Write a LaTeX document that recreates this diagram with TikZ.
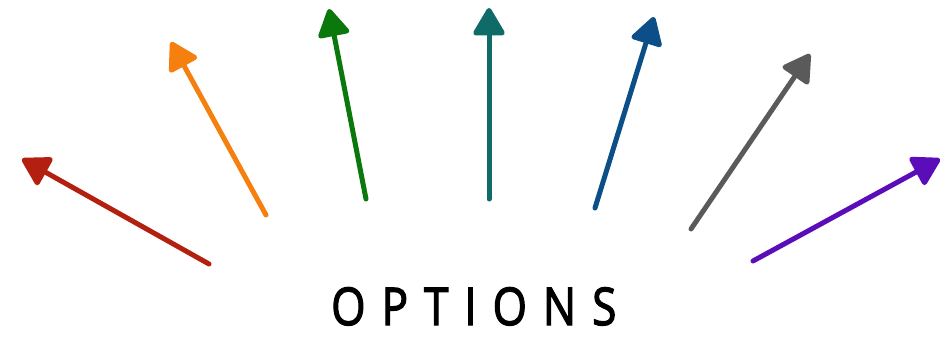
\documentclass[tikz,border=0pt]{standalone}
\usepackage{fontspec}
\usetikzlibrary{arrows.meta}
\newfontfamily\optfont[LetterSpace=36, FakeBold=2.5]{Open Sans}
\definecolor{cred}{HTML}{B42010}
\definecolor{corange}{HTML}{F5800F}
\definecolor{cgreen}{HTML}{0A780A}
\definecolor{cteal}{HTML}{0E6B68}
\definecolor{cblue}{HTML}{0C4F88}
\definecolor{cgray}{HTML}{5A5A5A}
\definecolor{cpurple}{HTML}{5A0DB8}
\tikzset{
  option/.style={line width=5pt, line cap=round,
    -{Triangle[length=30pt,width=34pt,round]}},
  label/.style={inner sep=0pt, anchor=base west, xscale=0.85, transform shape,
    font=\optfont\fontsize{52}{60}\selectfont}
}
\begin{document}
\begin{tikzpicture}[x=1pt,y=-1pt]
\useasboundingbox (0,0) rectangle (943,337);
% tails and tips
\coordinate (t1) at (209,264); \coordinate (h1) at (22,159);
\coordinate (t2) at (266,215); \coordinate (h2) at (171,42);
\coordinate (t3) at (366,199); \coordinate (h3) at (329,9);
\coordinate (t4) at (489,199); \coordinate (h4) at (489,8);
\coordinate (t5) at (595,208); \coordinate (h5) at (654,17);
\coordinate (t6) at (691,229); \coordinate (h6) at (810,54);
\coordinate (t7) at (753,261); \coordinate (h7) at (940,159);
\draw[option, cred] (t1) -- (h1);
\draw[option, corange] (t2) -- (h2);
\draw[option, cgreen] (t3) -- (h3);
\draw[option, cteal] (t4) -- (h4);
\draw[option, cblue] (t5) -- (h5);
\draw[option, cgray] (t6) -- (h6);
\draw[option, cpurple] (t7) -- (h7);
\node[label] (title) at (331,325) {OPTIONS};
\end{tikzpicture}
\end{document}
